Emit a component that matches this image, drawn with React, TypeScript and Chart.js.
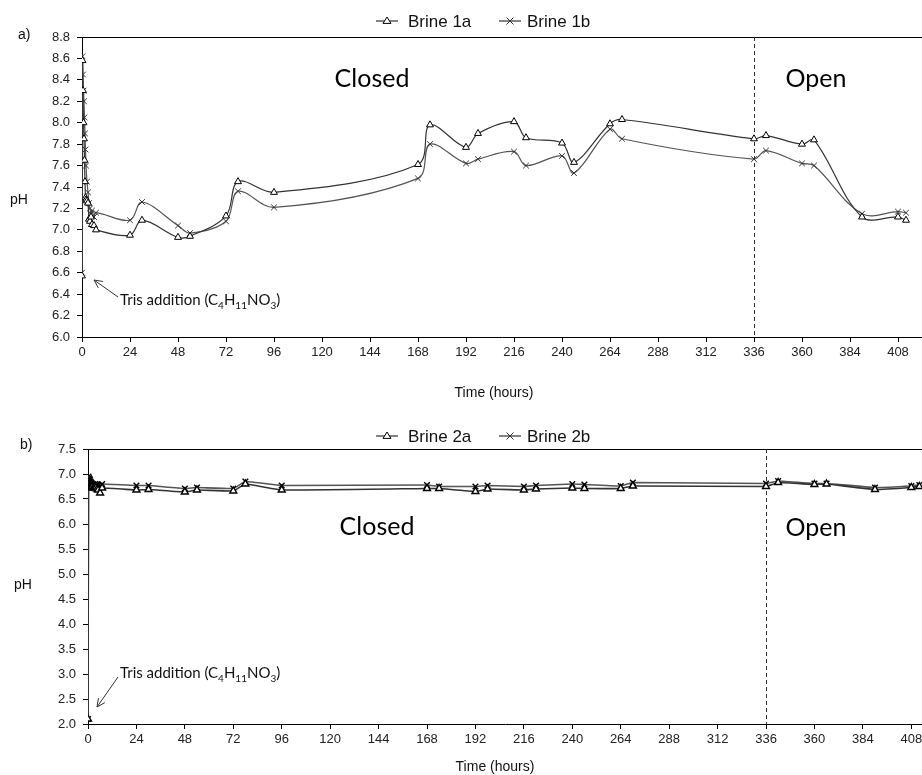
import React, { useEffect, useRef } from 'react';
import { Chart, registerables } from 'chart.js';
Chart.register(...registerables);

// ---------- data ----------
const hours = [0, 0.25, 0.5, 0.75, 1, 1.25, 1.5, 1.75, 2, 2.5, 3, 3.5, 4, 4.5, 5, 6, 7,
  24, 30, 48, 54, 72, 78, 96, 168, 174, 192, 198, 216, 222, 240, 246, 264, 270, 336, 342, 360, 366, 390, 408, 412];

const brine1a = [6.57, 8.58, 8.3, 8.0, 7.85, 7.65, 7.45, 7.3, 7.28, 7.27, 7.25, 7.1, 7.08, 7.12, 7.05, 7.04, 7.0,
  6.95, 7.09, 6.93, 6.94, 7.13, 7.45, 7.35, 7.61, 7.98, 7.77, 7.9, 8.01, 7.86, 7.81, 7.63, 7.99, 8.03, 7.85, 7.88, 7.8, 7.84, 7.12, 7.12, 7.09];
const brine1b = [6.6, 8.62, 8.45, 8.3, 8.2, 8.05, 7.9, 7.75, 7.6, 7.45, 7.35, 7.25, 7.2, 7.15, 7.18, 7.12, 7.16,
  7.09, 7.26, 7.04, 6.97, 7.08, 7.36, 7.21, 7.48, 7.8, 7.62, 7.66, 7.73, 7.6, 7.69, 7.53, 7.94, 7.85, 7.66, 7.74, 7.62, 7.6, 7.15, 7.17, 7.16];

const brine2a = [2.1, 6.9, 6.85, 6.82, 6.8, 6.78, 6.76, 6.75, 6.74, 6.72, 6.72, 6.74, 6.73, 6.7, 6.68, 6.62, 6.72,
  6.68, 6.69, 6.64, 6.68, 6.66, 6.8, 6.68, 6.71, 6.71, 6.65, 6.7, 6.68, 6.7, 6.72, 6.71, 6.71, 6.76, 6.75, 6.83, 6.79, 6.8, 6.69, 6.73, 6.75];
const brine2b = [2.1, 6.95, 6.92, 6.9, 6.88, 6.85, 6.83, 6.82, 6.8, 6.8, 6.78, 6.8, 6.79, 6.78, 6.77, 6.76, 6.8,
  6.77, 6.77, 6.71, 6.73, 6.71, 6.85, 6.77, 6.78, 6.75, 6.75, 6.77, 6.75, 6.77, 6.8, 6.79, 6.76, 6.83, 6.81, 6.86, 6.81, 6.81, 6.73, 6.76, 6.78];

const timeTicks = [0, 24, 48, 72, 96, 120, 144, 168, 192, 216, 240, 264, 288, 312, 336, 360, 384, 408];
const phTicksTop = [6.0, 6.2, 6.4, 6.6, 6.8, 7.0, 7.2, 7.4, 7.6, 7.8, 8.0, 8.2, 8.4, 8.6, 8.8];
const phTicksBottom = [2.0, 2.5, 3.0, 3.5, 4.0, 4.5, 5.0, 5.5, 6.0, 6.5, 7.0, 7.5];
const phaseChange = 336;

const ARIAL = "'Liberation Sans', Arial, sans-serif";
const HUMAN = "Lato, 'Open Sans', sans-serif";

function pts(xs: number[], ys: number[]) {
  return xs.map((x, i) => ({ x, y: ys[i] }));
}

function drawTriangle(ctx: CanvasRenderingContext2D, x: number, y: number, r: number) {
  const half = r * Math.sqrt(3) / 2;
  ctx.beginPath();
  ctx.moveTo(x, y - r);
  ctx.lineTo(x + half * 1.15, y + r * 0.6);
  ctx.lineTo(x - half * 1.15, y + r * 0.6);
  ctx.closePath();
  ctx.fillStyle = '#fff';
  ctx.fill();
  ctx.strokeStyle = '#000';
  ctx.lineWidth = 1;
  ctx.stroke();
}
function drawX(ctx: CanvasRenderingContext2D, x: number, y: number, r: number) {
  ctx.beginPath();
  ctx.moveTo(x - r, y - r); ctx.lineTo(x + r, y + r);
  ctx.moveTo(x - r, y + r); ctx.lineTo(x + r, y - r);
  ctx.strokeStyle = '#333';
  ctx.lineWidth = 1;
  ctx.stroke();
}

type Deco = {
  legend: { labels: string[]; y: number };
  panel: string; panelPos: [number, number];
  phPos: [number, number];
  closed: [number, number]; open: [number, number];
  tris: { x: number; y: number; tail: [number, number]; head: [number, number] };
  timeTitle: [number, number];
};

function arrow(ctx: CanvasRenderingContext2D, tail: [number, number], head: [number, number]) {
  ctx.save();
  ctx.strokeStyle = '#333';
  ctx.lineWidth = 1;
  ctx.beginPath();
  ctx.moveTo(tail[0], tail[1]);
  ctx.lineTo(head[0], head[1]);
  const ang = Math.atan2(head[1] - tail[1], head[0] - tail[0]);
  const L = 9;
  for (const s of [-1, 1]) {
    const a = ang + Math.PI + s * 0.45;
    ctx.moveTo(head[0], head[1]);
    ctx.lineTo(head[0] + L * Math.cos(a), head[1] + L * Math.sin(a));
  }
  ctx.stroke();
  ctx.restore();
}

function trisText(ctx: CanvasRenderingContext2D, x: number, y: number) {
  const parts: [string, boolean][] = [['Tris addition (C', false], ['4', true], ['H', false], ['11', true], ['NO', false], ['3', true], [')', false]];
  ctx.save();
  ctx.fillStyle = '#111';
  ctx.textBaseline = 'alphabetic';
  ctx.textAlign = 'left';
  let cx = x;
  for (const [t, sub] of parts) {
    ctx.font = sub ? `10px ${HUMAN}` : `15px ${HUMAN}`;
    ctx.fillText(t, cx, sub ? y + 4 : y);
    cx += ctx.measureText(t).width;
  }
  ctx.restore();
}

function makeDecoPlugin(d: Deco) {
  return {
    id: 'deco',
    beforeDatasetsDraw(chart: any) {
      const { ctx, chartArea } = chart;
      const xs = chart.scales.x;
      ctx.save();
      ctx.strokeStyle = '#000';
      ctx.lineWidth = 1;
      ctx.beginPath();
      ctx.moveTo(chartArea.left, chartArea.top + 0.5);
      ctx.lineTo(chartArea.right, chartArea.top + 0.5);
      ctx.stroke();
      const px = Math.round(xs.getPixelForValue(phaseChange)) + 0.5;
      ctx.strokeStyle = '#333';
      ctx.setLineDash([4, 3]);
      ctx.beginPath();
      ctx.moveTo(px, chartArea.top);
      ctx.lineTo(px, chartArea.bottom);
      ctx.stroke();
      ctx.restore();
    },
    afterDraw(chart: any) {
      const { ctx } = chart;
      ctx.save();
      const lx = [376, 499];
      d.legend.labels.forEach((lab, i) => {
        const x0 = lx[i];
        ctx.strokeStyle = '#333';
        ctx.lineWidth = 1.2;
        ctx.beginPath();
        ctx.moveTo(x0, d.legend.y);
        ctx.lineTo(x0 + 22, d.legend.y);
        ctx.stroke();
        if (i === 0) drawTriangle(ctx, x0 + 11, d.legend.y, 4);
        else drawX(ctx, x0 + 11, d.legend.y, 3.5);
        ctx.fillStyle = '#111';
        ctx.font = `17px ${ARIAL}`;
        ctx.textAlign = 'left';
        ctx.textBaseline = 'middle';
        ctx.fillText(lab, i === 0 ? 408 : 527, d.legend.y + 1);
      });
      ctx.font = `14px ${ARIAL}`;
      ctx.fillStyle = '#111';
      ctx.textAlign = 'left';
      ctx.textBaseline = 'middle';
      ctx.fillText(d.panel, d.panelPos[0], d.panelPos[1]);
      ctx.fillText('pH', d.phPos[0], d.phPos[1]);
      ctx.textAlign = 'center';
      ctx.font = `14px ${ARIAL}`;
      ctx.fillText('Time (hours)', d.timeTitle[0], d.timeTitle[1]);
      ctx.font = `25px ${HUMAN}`;
      ctx.fillStyle = '#000';
      ctx.fillText('Closed', d.closed[0], d.closed[1]);
      ctx.fillText('Open', d.open[0], d.open[1]);
      ctx.restore();
      trisText(ctx, d.tris.x, d.tris.y);
      arrow(ctx, d.tris.tail, d.tris.head);
    },
  };
}

function makeConfig(opts: {
  sets: { label: string; data: number[]; style: 'a' | 'b' }[];
  xmax: number; ymin: number; ymax: number; yTicks: number[];
  top: number; axisW: number; axisH: number; tension: number; deco: Deco; bold: boolean;
}): any {
  return {
    type: 'line',
    data: {
      datasets: opts.sets.map((s) => ({
        label: s.label,
        data: pts(hours, s.data),
        borderColor: s.style === 'a' ? '#333' : '#555',
        borderWidth: opts.bold ? 1.6 : 1.2,
        tension: opts.tension,
        pointStyle: s.style === 'a' ? 'triangle' : 'crossRot',
        pointRadius: 4,
        pointBorderWidth: opts.bold ? 1.4 : 1,
        pointBackgroundColor: s.style === 'a' ? '#fff' : '#333',
        pointBorderColor: opts.bold ? '#000' : (s.style === 'a' ? '#000' : '#333'),
        fill: false,
      })),
    },
    options: {
      animation: false,
      responsive: false,
      events: [],
      layout: { autoPadding: false, padding: { top: opts.top, left: 0, right: 0, bottom: 0 } },
      plugins: { legend: { display: false }, tooltip: { enabled: false } },
      scales: {
        x: {
          type: 'linear', min: 0, max: opts.xmax,
          afterBuildTicks: (s: any) => { s.ticks = timeTicks.map((v) => ({ value: v })); },
          afterFit: (s: any) => { s.height = opts.axisH; s.paddingLeft = 0; s.paddingRight = 0; },
          grid: { drawOnChartArea: false, drawTicks: true, tickLength: 5, color: '#000' },
          border: { color: '#000', width: 1 },
          ticks: { autoSkip: false, maxRotation: 0, padding: 3, color: '#222', font: { family: ARIAL, size: 13 } },
        },
        y: {
          min: opts.ymin, max: opts.ymax,
          afterBuildTicks: (s: any) => { s.ticks = opts.yTicks.map((v) => ({ value: v })); },
          afterFit: (s: any) => { s.width = opts.axisW; s.paddingTop = 0; s.paddingBottom = 0; },
          grid: { drawOnChartArea: false, drawTicks: true, tickLength: 5, color: '#000' },
          border: { color: '#000', width: 1 },
          ticks: { padding: 7, color: '#222', font: { family: ARIAL, size: 13 }, callback: (v: any) => Number(v).toFixed(1) },
        },
      },
    },
    plugins: [makeDecoPlugin(opts.deco)],
  };
}

export default function App() {
  const topRef = useRef<HTMLCanvasElement>(null);
  const botRef = useRef<HTMLCanvasElement>(null);
  useEffect(() => {
    const c1 = new Chart(topRef.current!, makeConfig({
      sets: [{ label: 'Brine 1a', data: brine1a, style: 'a' }, { label: 'Brine 1b', data: brine1b, style: 'b' }],
      xmax: 420, ymin: 6.0, ymax: 8.8, yTicks: phTicksTop, top: 37, axisW: 82, axisH: 63, tension: 0.35, bold: false,
      deco: {
        legend: { labels: ['Brine 1a', 'Brine 1b'], y: 21 },
        panel: 'a)', panelPos: [18, 35], phPos: [10, 200],
        closed: [372, 79], open: [816, 79],
        tris: { x: 120, y: 305, tail: [118, 297], head: [94, 280] },
        timeTitle: [494, 393],
      },
    }));
    const c2 = new Chart(botRef.current!, makeConfig({
      sets: [{ label: 'Brine 2a', data: brine2a, style: 'a' }, { label: 'Brine 2b', data: brine2b, style: 'b' }],
      xmax: 413.3, ymin: 2.0, ymax: 7.5, yTicks: phTicksBottom, top: 44, axisW: 88, axisH: 51, tension: 0.1, bold: true,
      deco: {
        legend: { labels: ['Brine 2a', 'Brine 2b'], y: 31 },
        panel: 'b)', panelPos: [20, 40], phPos: [14, 180],
        closed: [377, 122], open: [816, 123],
        tris: { x: 120, y: 273, tail: [118, 272], head: [97, 302] },
        timeTitle: [495, 362],
      },
    }));
    return () => { c1.destroy(); c2.destroy(); };
  }, []);
  return (
    <div style={{ position: 'absolute', left: 0, top: 0, width: 922, height: 775, background: '#fff', overflow: 'hidden' }}>
      <canvas ref={topRef} width={922} height={400} style={{ position: 'absolute', left: 0, top: 0, display: 'block' }} />
      <canvas ref={botRef} width={922} height={370} style={{ position: 'absolute', left: 0, top: 405, display: 'block' }} />
    </div>
  );
}
